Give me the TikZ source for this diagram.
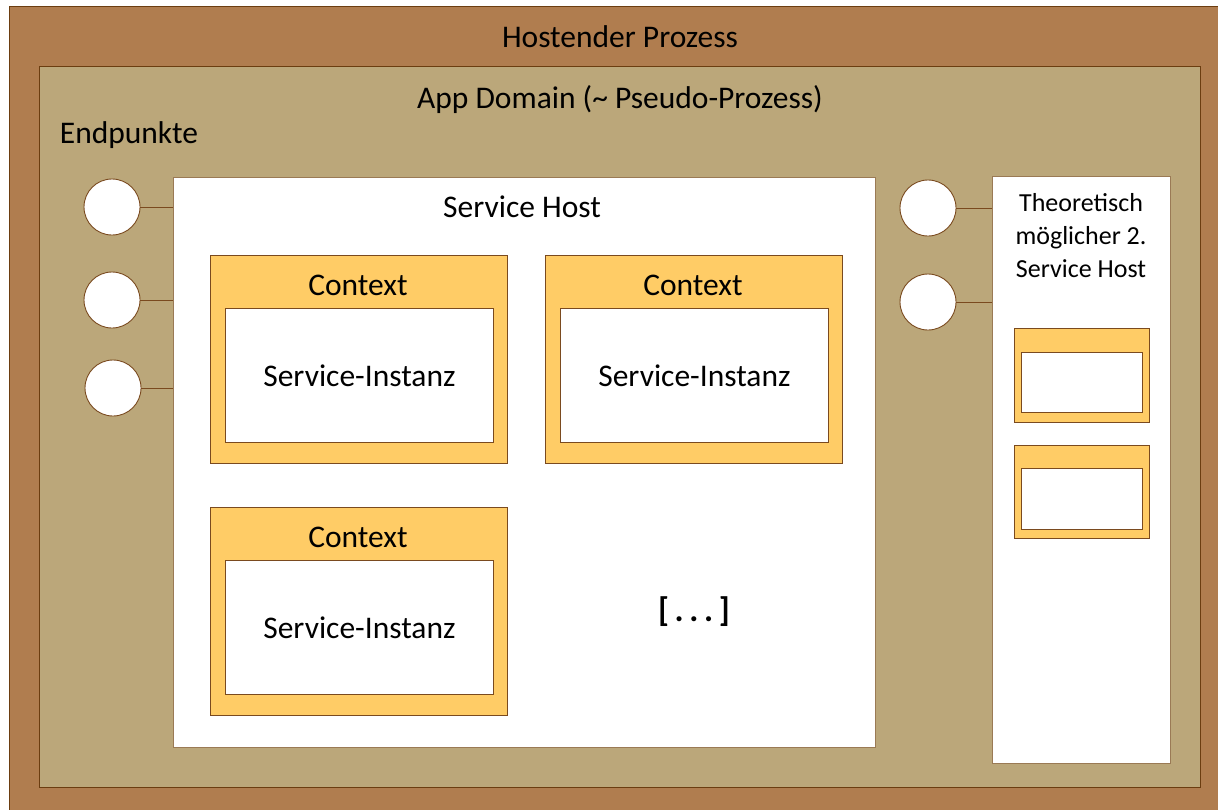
\documentclass[tikz,border=0pt]{standalone}
\usepackage{fontspec}
\setmainfont{Carlito}
\definecolor{outerfill}{HTML}{B07D4F}
\definecolor{outerdraw}{HTML}{6B3D10}
\definecolor{appfill}{HTML}{BBA77A}
\definecolor{hostdraw}{HTML}{9A7A55}
\definecolor{ctxfill}{HTML}{FFCC66}
\definecolor{ctxdraw}{HTML}{7A4A1F}
\tikzset{
  box/.style={draw, rectangle, anchor=north west, inner sep=0pt, line width=0.9pt},
  outerbox/.style={box, fill=outerfill, draw=outerdraw},
  appbox/.style={box, fill=appfill, draw=outerdraw},
  hostbox/.style={box, fill=white, draw=hostdraw, line width=1.2pt},
  ctxbox/.style={box, fill=ctxfill, draw=ctxdraw},
  instbox/.style={box, fill=white, draw=ctxdraw},
  endpt/.style={draw=ctxdraw, fill=white, circle, minimum size=56pt, inner sep=0pt, line width=0.9pt},
  conn/.style={draw=ctxdraw, line width=0.9pt},
  lbl/.style={font=\fontsize{31.5}{36}\selectfont, inner sep=0pt},
  slbl/.style={font=\fontsize{26}{33}\selectfont, inner sep=0pt, align=center}
}
\begin{document}
\begin{tikzpicture}[x=1pt,y=-1pt]
\useasboundingbox (0,0) rectangle (1218,809);
\fill[white] (0,0) rectangle (1218,809);
\node[outerbox, minimum width=1212pt, minimum height=806pt] (outer) at (9,6) {};
\node[appbox, minimum width=1161pt, minimum height=721pt] (app) at (39,66) {};
\node[lbl] (t1) at (620,37) {Hostender Prozess};
\node[lbl] (t2) at (620,100) {App Domain (\textasciitilde{} Pseudo-Prozess)};
\node[lbl] (t3) at (129,135) {Endpunkte};
% main service host
\node[hostbox, minimum width=702pt, minimum height=570pt] (host) at (173,177) {};
\node[lbl] (t4) at (522,207) {Service Host};
% contexts
\node[ctxbox, minimum width=297pt, minimum height=208pt] (c1) at (210,255) {};
\node[instbox, minimum width=268pt, minimum height=134pt] (i1) at (225,308) {};
\node[lbl] at (358,285) {Context};
\node[lbl] at (i1.center) {Service-Instanz};
\node[ctxbox, minimum width=297pt, minimum height=208pt] (c2) at (545,255) {};
\node[instbox, minimum width=268pt, minimum height=134pt] (i2) at (560,308) {};
\node[lbl] at (693,285) {Context};
\node[lbl] at (i2.center) {Service-Instanz};
\node[ctxbox, minimum width=297pt, minimum height=208pt] (c3) at (210,507) {};
\node[instbox, minimum width=268pt, minimum height=134pt] (i3) at (225,560) {};
\node[lbl] at (358,537) {Context};
\node[lbl] at (i3.center) {Service-Instanz};
\node[lbl, font=\fontsize{34}{38}\selectfont\bfseries] (dots) at (694,612) {[\,.\,.\,.\,]};
% second host
\node[hostbox, minimum width=178pt, minimum height=587pt] (host2) at (992,176) {};
\node[slbl] (t5) at (1081,236) {Theoretisch\\möglicher 2.\\Service Host};
\node[ctxbox, minimum width=135pt, minimum height=94pt] (c4) at (1014,328) {};
\node[instbox, minimum width=121pt, minimum height=60pt] (i4) at (1021,352) {};
\node[ctxbox, minimum width=135pt, minimum height=93pt] (c5) at (1014,445) {};
\node[instbox, minimum width=121pt, minimum height=61pt] (i5) at (1021,468) {};
% endpoints
\node[endpt] (e1) at (112,207) {};
\node[endpt] (e2) at (112,300) {};
\node[endpt] (e3) at (113,388) {};
\node[endpt] (e4) at (928,208) {};
\node[endpt] (e5) at (928,302) {};
\draw[conn] (e1.east) -- (e1.east -| host.west);
\draw[conn] (e2.east) -- (e2.east -| host.west);
\draw[conn] (e3.east) -- (e3.east -| host.west);
\draw[conn] (e4.east) -- (e4.east -| host2.west);
\draw[conn] (e5.east) -- (e5.east -| host2.west);
\end{tikzpicture}
\end{document}
